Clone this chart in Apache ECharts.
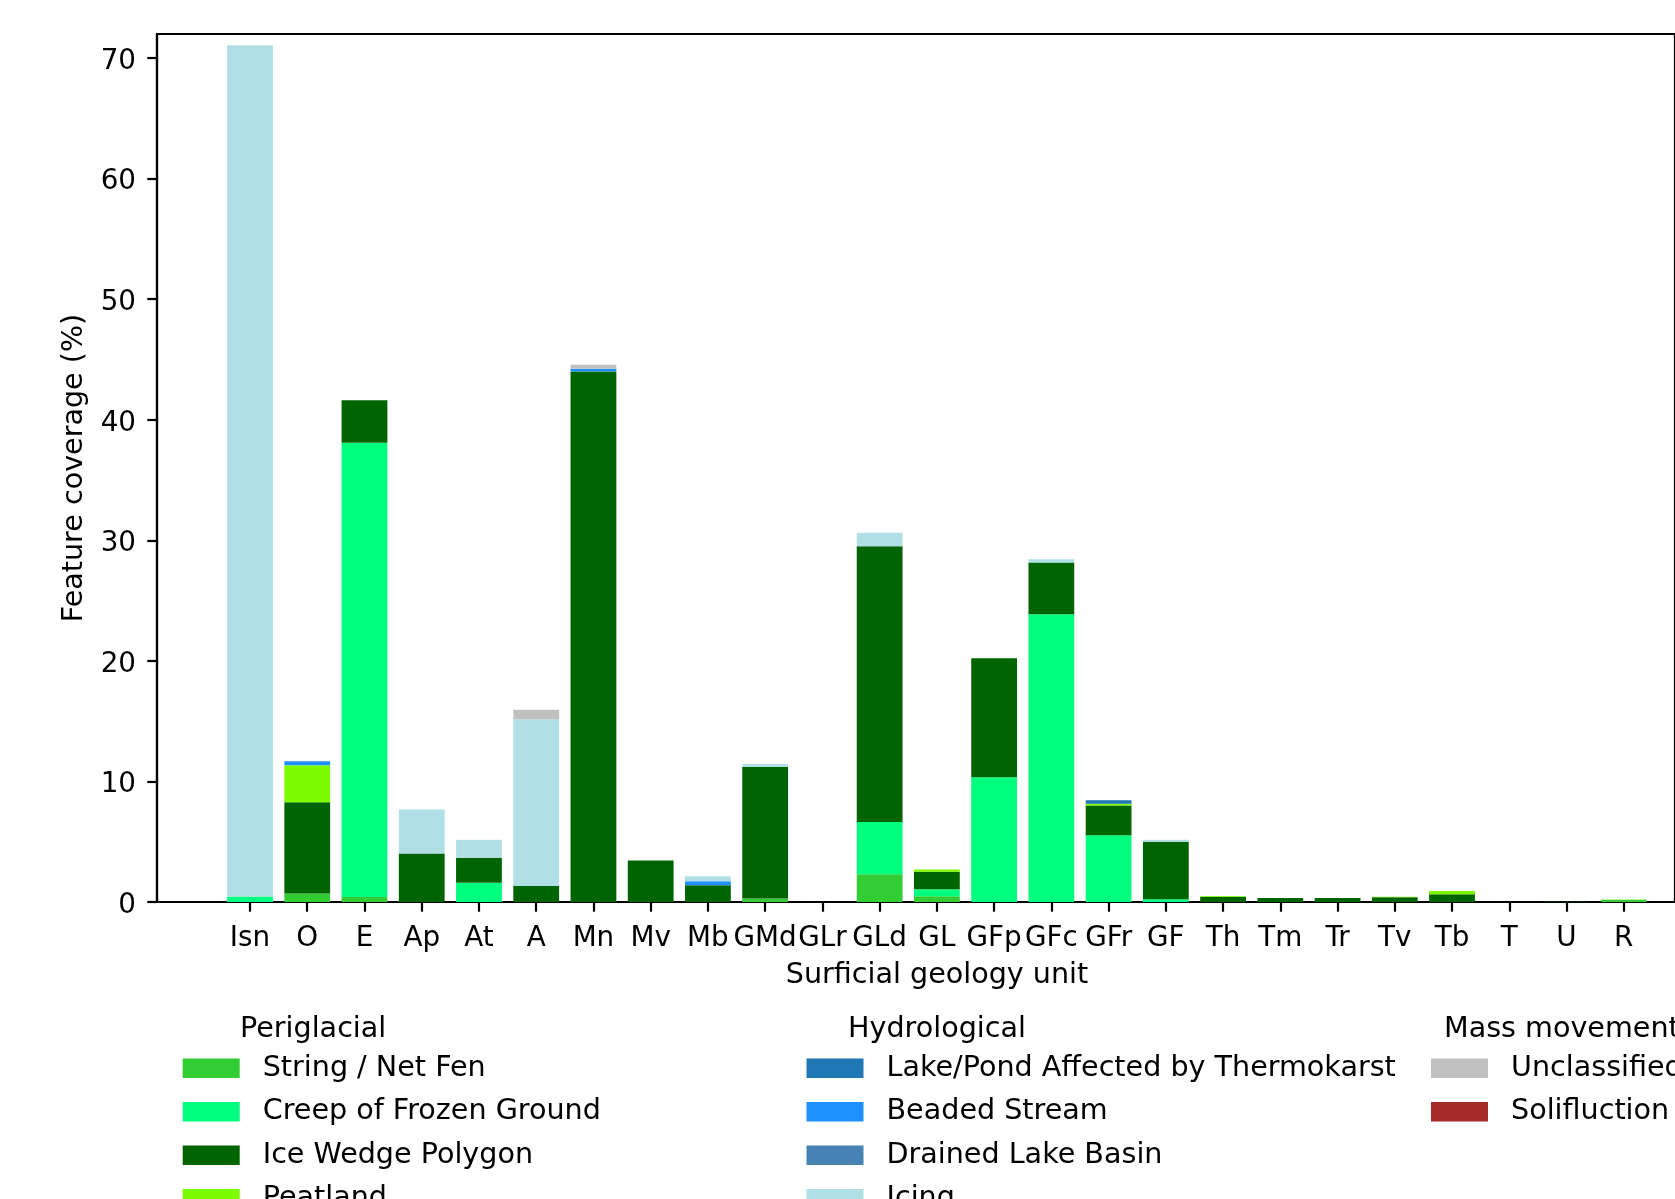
<!DOCTYPE html>
<html>
<head>
<meta charset="utf-8">
<title>Feature coverage by surficial geology unit</title>
<script src="https://cdn.jsdelivr.net/npm/echarts@6/dist/echarts.min.js"></script>
<style>
  html, body { margin: 0; padding: 0; background: #fff; }
  #chart { width: 1675px; height: 1199px; }
</style>
</head>
<body>
<div id="chart"></div>
<script>
// Surficial geology units along the x axis
const categories = ['Isn', 'O', 'E', 'Ap', 'At', 'A', 'Mn', 'Mv', 'Mb', 'GMd', 'GLr', 'GLd', 'GL',
  'GFp', 'GFc', 'GFr', 'GF', 'Th', 'Tm', 'Tr', 'Tv', 'Tb', 'T', 'U', 'R'];

// Feature coverage (%) per unit, one array per feature type (stacked bottom to top)
const stringNetFen      = [0, 0.70, 0.42, 0, 0, 0, 0, 0, 0, 0.28, 0, 2.30, 0.47, 0, 0, 0, 0, 0, 0, 0, 0, 0, 0, 0, 0.18];
const creepFrozenGround = [0.45, 0, 37.67, 0, 1.60, 0, 0, 0, 0, 0, 0, 4.34, 0.58, 10.35, 23.87, 5.53, 0.22, 0, 0, 0, 0, 0, 0, 0, 0];
const iceWedgePolygon   = [0, 7.57, 3.54, 4.02, 2.07, 1.32, 44.00, 3.45, 1.39, 10.92, 0, 22.86, 1.45, 9.87, 4.29, 2.47, 4.78, 0.44, 0.33, 0.33, 0.40, 0.64, 0, 0.02, 0];
const peatland          = [0, 3.08, 0, 0, 0, 0, 0, 0, 0, 0, 0, 0, 0.20, 0, 0, 0.15, 0, 0.05, 0, 0, 0.04, 0.27, 0, 0, 0.03];
const lakePondThermo    = [0, 0, 0, 0, 0, 0, 0, 0, 0, 0, 0, 0, 0, 0, 0, 0.29, 0, 0, 0, 0, 0, 0, 0, 0, 0];
const beadedStream      = [0, 0.33, 0, 0, 0, 0, 0.23, 0, 0.33, 0, 0, 0, 0, 0, 0, 0, 0, 0, 0, 0, 0, 0, 0, 0, 0];
const drainedLakeBasin  = [0, 0, 0, 0, 0, 0, 0, 0, 0, 0, 0, 0, 0, 0, 0, 0, 0, 0, 0, 0, 0, 0, 0, 0, 0];
const icing             = [70.61, 0, 0, 3.65, 1.50, 13.83, 0, 0, 0.41, 0.25, 0, 1.13, 0, 0, 0.28, 0, 0.17, 0, 0, 0, 0, 0, 0, 0, 0];
const unclassified      = [0, 0, 0, 0, 0, 0.79, 0.33, 0, 0, 0, 0, 0, 0, 0, 0, 0, 0, 0, 0, 0, 0, 0, 0, 0, 0];
const solifluction      = [0, 0, 0, 0, 0, 0, 0, 0, 0, 0, 0, 0, 0, 0, 0, 0, 0, 0, 0, 0, 0, 0, 0, 0, 0];

// Y axis tick labels
const yTicks = [0, 10, 20, 30, 40, 50, 60, 70];

// Legend groups
const periglacialNames = ['String / Net Fen', 'Creep of Frozen Ground', 'Ice Wedge Polygon', 'Peatland'];
const hydrologicalNames = ['Lake/Pond Affected by Thermokarst', 'Beaded Stream', 'Drained Lake Basin', 'Icing'];
const massMovementNames = ['Unclassified', 'Solifluction'];

const layers = [
  { name: 'String / Net Fen', data: stringNetFen, color: '#32CD32' },
  { name: 'Creep of Frozen Ground', data: creepFrozenGround, color: '#00FF7F' },
  { name: 'Ice Wedge Polygon', data: iceWedgePolygon, color: '#006400' },
  { name: 'Peatland', data: peatland, color: '#7CFC00' },
  { name: 'Lake/Pond Affected by Thermokarst', data: lakePondThermo, color: '#1F77B4' },
  { name: 'Beaded Stream', data: beadedStream, color: '#1E90FF' },
  { name: 'Drained Lake Basin', data: drainedLakeBasin, color: '#4682B4' },
  { name: 'Icing', data: icing, color: '#B0E0E6' },
  { name: 'Unclassified', data: unclassified, color: '#C0C0C0' },
  { name: 'Solifluction', data: solifluction, color: '#A52A2A' }
];

const FONT = 'DejaVu Sans';
const FS = 27.8;      // tick labels
const FS_TEXT = 28.6; // axis titles and legend
const LW = 2.2;

// Plot frame geometry
const frameLeft = 157, frameTop = 34, frameWidth = 1560, frameHeight = 868;
const bandWidth = 57.24, firstCenter = 250;
const barsLeft = firstCenter - bandWidth / 2;
const Y_MAX = 72;

const chart = echarts.init(document.getElementById('chart'), null, { renderer: 'canvas' });

function legendFor(names, left) {
  return {
    orient: 'vertical',
    left: left,
    top: 1049.85,
    height: 400,
    padding: 0,
    itemWidth: 57,
    itemHeight: 19.5,
    itemGap: 6.5,
    icon: 'rect',
    selectedMode: false,
    data: names,
    itemStyle: { borderWidth: 0 },
    textStyle: { fontFamily: FONT, fontSize: FS_TEXT, color: '#000', lineHeight: 28, padding: [9, 0, 0, 18] }
  };
}

function header(text, x) {
  return {
    type: 'text', left: x, top: 1015.5,
    style: { text: text, fontFamily: FONT, fontSize: FS_TEXT, fill: '#000' }
  };
}

const option = {
  backgroundColor: '#fff',
  animation: false,
  grid: [
    { left: frameLeft, top: frameTop, width: frameWidth, height: frameHeight,
      show: true, borderColor: '#000', borderWidth: LW, backgroundColor: 'transparent', containLabel: false },
    { left: barsLeft, top: frameTop, width: bandWidth * categories.length, height: frameHeight, containLabel: false }
  ],
  xAxis: [
    { type: 'value', gridIndex: 0, min: 0, max: 1,
      axisLine: { show: true, lineStyle: { color: '#000', width: LW } },
      axisTick: { show: false }, axisLabel: { show: false }, splitLine: { show: false } },
    { type: 'category', gridIndex: 1, data: categories,
      axisLine: { show: false },
      axisTick: { show: true, alignWithLabel: true, length: 9.7, lineStyle: { color: '#000', width: LW } },
      axisLabel: { interval: 0, hideOverlap: false, margin: 23, fontFamily: FONT, fontSize: FS, color: '#000' },
      splitLine: { show: false } }
  ],
  yAxis: [
    { type: 'value', gridIndex: 0, min: 0, max: Y_MAX, interval: 10,
      axisLine: { show: true, lineStyle: { color: '#000', width: LW } },
      axisTick: { show: true, length: 9.7, lineStyle: { color: '#000', width: LW }, customValues: yTicks },
      axisLabel: { margin: 21, color: '#000', customValues: yTicks,
        formatter: v => (yTicks.indexOf(v) >= 0 ? '{v|' + v + '}' : ''),
        rich: { v: { fontFamily: FONT, fontSize: FS, color: '#000', padding: [7, 0, 0, 0] } } },
      splitLine: { show: false } },
    { type: 'value', gridIndex: 1, min: 0, max: Y_MAX, show: false, splitLine: { show: false } }
  ],
  legend: [
    legendFor(periglacialNames, 182.7),
    legendFor(hydrologicalNames, 806.5),
    legendFor(massMovementNames, 1431)
  ],
  graphic: [
    { type: 'text', x: 937, y: 976,
      style: { text: 'Surficial geology unit', fontFamily: FONT, fontSize: FS_TEXT, fill: '#000',
        align: 'center', verticalAlign: 'middle' } },
    { type: 'text', x: 75, y: 468, rotation: Math.PI / 2,
      style: { text: 'Feature coverage (%)', fontFamily: FONT, fontSize: FS_TEXT, fill: '#000',
        align: 'center', verticalAlign: 'middle' } },
    header('Periglacial', 240),
    header('Hydrological', 848),
    header('Mass movement', 1444)
  ],
  series: layers.map(l => ({
    name: l.name,
    type: 'bar',
    stack: 'coverage',
    xAxisIndex: 1,
    yAxisIndex: 1,
    barWidth: '80%',
    data: l.data,
    itemStyle: { color: l.color, borderWidth: 0 },
    emphasis: { disabled: true }
  }))
};

chart.setOption(option);
</script>
</body>
</html>
